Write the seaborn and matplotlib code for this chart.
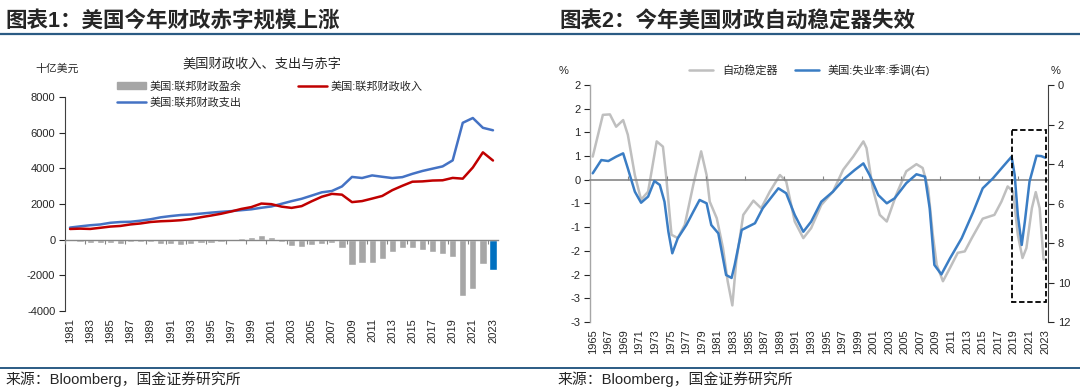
import numpy as np
import pandas as pd
import matplotlib
matplotlib.use("Agg")
import matplotlib.pyplot as plt
from matplotlib.lines import Line2D
from matplotlib.patches import Patch, Rectangle
import seaborn as sns

sns.set_style("white")
plt.rcParams['font.family'] = ['Liberation Sans', 'Noto Sans CJK SC', 'DejaVu Sans']
plt.rcParams['axes.unicode_minus'] = False

# 图表1 数据 (十亿美元)
years = list(range(1981, 2024))
surplus = [-79, -128, -208, -185, -212, -221, -150, -155, -153, -221, -269, -290, -255, -203,
           -164, -107, -22, 69, 126, 236, 128, -158, -378, -413, -318, -248, -161, -459,
           -1413, -1294, -1300, -1077, -680, -485, -442, -585, -665, -779, -984, -3132,
           -2775, -1376, -1695]
revenue = [599, 618, 601, 666, 734, 769, 854, 909, 991, 1032, 1055, 1091, 1154, 1259, 1352,
           1453, 1579, 1722, 1827, 2025, 1991, 1853, 1782, 1880, 2154, 2407, 2568, 2524, 2105,
           2163, 2304, 2450, 2775, 3022, 3250, 3268, 3316, 3330, 3463, 3421, 4047, 4897, 4439]
outlays = [678, 746, 808, 852, 946, 990, 1004, 1065, 1144, 1253, 1324, 1382, 1410, 1462, 1516,
           1561, 1601, 1652, 1702, 1789, 1863, 2011, 2160, 2293, 2472, 2655, 2729, 2983, 3518,
           3457, 3603, 3527, 3455, 3506, 3692, 3853, 3982, 4109, 4447, 6553, 6822, 6273, 6134]

# 图表2 数据
stab_years = [1965.0, 1966.3, 1967.2, 1968.0, 1968.9, 1969.5, 1970.4, 1971.2, 1972.1, 1973.2,
              1974.0, 1974.4, 1975.1, 1975.9, 1976.8, 1977.9, 1978.9, 1979.6, 1980.0, 1980.9,
              1981.7, 1982.3, 1982.9, 1983.4, 1984.3, 1985.6, 1986.6, 1987.7, 1989.0, 1989.8,
              1990.9, 1992.0, 1993.0, 1994.3, 1995.8, 1997.1, 1998.4, 1999.7, 2000.1, 2000.9,
              2001.8, 2002.7, 2003.9, 2005.2, 2006.5, 2007.3, 2008.0, 2008.6, 2009.1, 2009.9,
              2010.8, 2011.8, 2012.7, 2013.6, 2015.0, 2016.5, 2017.4, 2018.2, 2018.9, 2019.5,
              2020.1, 2020.6, 2021.3, 2021.8, 2022.3, 2022.8]
stab_vals = [0.49, 1.37, 1.38, 1.12, 1.26, 0.95, 0.10, -0.42, -0.25, 0.81,
             0.70, 0.10, -1.16, -1.23, -0.95, -0.10, 0.60, 0.10, -0.46, -0.81,
             -1.44, -2.14, -2.65, -1.72, -0.74, -0.44, -0.60, -0.25, 0.10, -0.03,
             -0.88, -1.23, -1.02, -0.53, -0.25, 0.21, 0.49, 0.81, 0.67, -0.18,
             -0.74, -0.88, -0.32, 0.18, 0.33, 0.25, -0.18, -1.16, -1.79, -2.14,
             -1.86, -1.54, -1.51, -1.23, -0.82, -0.74, -0.46, -0.14, -0.25, -1.16,
             -1.65, -1.44, -0.60, -0.26, -0.60, -1.68]
unemp_years = [1965.0, 1966.1, 1967.0, 1968.0, 1968.9, 1969.5, 1970.4, 1971.2, 1972.1, 1972.9,
               1973.6, 1974.2, 1974.7, 1975.2, 1975.9, 1977.0, 1977.9, 1978.7, 1979.6, 1980.2,
               1981.1, 1982.1, 1982.8, 1983.2, 1984.1, 1985.8, 1986.8, 1988.8, 1989.8, 1990.9,
               1992.0, 1993.0, 1994.3, 1995.8, 1997.3, 1998.6, 1999.7, 2000.5, 2001.6, 2002.7,
               2003.7, 2005.2, 2006.5, 2007.6, 2008.2, 2008.8, 2009.7, 2010.8, 2012.3, 2013.8,
               2015.0, 2016.3, 2017.6, 2018.7, 2019.1, 2019.5, 2020.0, 2020.4, 2021.0, 2021.9,
               2022.5, 2023.0]
unemp_vals = [4.47, 3.80, 3.85, 3.63, 3.46, 4.22, 5.40, 5.96, 5.65, 4.86,
              5.06, 5.91, 7.43, 8.52, 7.76, 7.09, 6.41, 5.82, 5.99, 7.09,
              7.51, 9.62, 9.77, 9.11, 7.34, 7.00, 6.24, 5.23, 5.48, 6.58,
              7.43, 6.92, 5.91, 5.40, 4.73, 4.30, 3.97, 4.56, 5.57, 5.99,
              5.74, 4.97, 4.52, 4.64, 6.24, 9.11, 9.59, 8.78, 7.76, 6.41,
              5.23, 4.73, 4.13, 3.63, 4.56, 6.58, 8.10, 6.92, 4.89, 3.58,
              3.60, 3.68]
left_ticks = [-3, -2.5, -2, -1.5, -1, -0.5, 0, 0.5, 1, 1.5, 2]
left_tick_labels = ['-3', '-3', '-2', '-2', '-1', '-1', '0', '1', '1', '2', '2']
right_ticks = [0, 2, 4, 6, 8, 10, 12]

W, H = 1080, 389
fig = plt.figure(figsize=(W / 100, H / 100), dpi=100)

def fx(px):
    return px / W

def fy(py):
    return 1 - py / H

# ---------- 页眉、页脚 ----------
head_col = '#2B5B84'
fig.text(fx(5), fy(22), '图表1：美国今年财政赤字规模上涨', fontsize=15.5, weight='bold',
         va='center', ha='left')
fig.text(fx(559), fy(22), '图表2：今年美国财政自动稳定器失效', fontsize=15.5, weight='bold',
         va='center', ha='left')
fig.add_artist(Line2D([0, 1], [fy(34), fy(34)], color=head_col, lw=1.6))
fig.add_artist(Line2D([0, 1], [fy(368), fy(368)], color=head_col, lw=1.4))
fig.text(fx(5), fy(379), '来源：Bloomberg，国金证券研究所', fontsize=10.7, va='center')
fig.text(fx(557), fy(379), '来源：Bloomberg，国金证券研究所', fontsize=10.7, va='center')

# ---------- 图表1 ----------
df1 = pd.DataFrame({'pos': np.arange(len(years)), 'year': years, 'surplus': surplus,
                    'revenue': revenue, 'outlays': outlays})

ax1 = fig.add_axes([fx(65), fy(311), fx(433), (311 - 97) / H])
sns.barplot(data=df1, x='pos', y='surplus', color='#A6A6A6', width=0.72, ax=ax1,
            saturation=1)
ax1.patches[-1].set_facecolor('#0070C0')
sns.lineplot(data=df1, x='pos', y='outlays', color='#4472C4', lw=1.8, ax=ax1)
sns.lineplot(data=df1, x='pos', y='revenue', color='#C00000', lw=1.8, ax=ax1)
ax1.set_xlim(-0.5, len(years) - 0.5)
ax1.set_ylim(-4000, 8000)
ax1.set_yticks(range(-4000, 8001, 2000))
ax1.set_xticks(range(0, len(years), 2))
ax1.set_xticklabels([str(y) for y in years[::2]], rotation=90)
ax1.tick_params(axis='x', length=0, pad=5, labelsize=8)
ax1.tick_params(axis='y', length=4, width=0.8, direction='out', labelsize=8, pad=3, left=True)
ax1.set_xlabel('')
ax1.set_ylabel('')
for s in ['top', 'right', 'bottom']:
    ax1.spines[s].set_visible(False)
ax1.spines['left'].set_color('#404040')
ax1.spines['left'].set_linewidth(0.8)

ax1z = ax1.twiny()
ax1z.set_xlim(ax1.get_xlim())
ax1z.xaxis.set_ticks_position('bottom')
ax1z.spines['bottom'].set_position(('data', 0))
for s in ['top', 'right', 'left']:
    ax1z.spines[s].set_visible(False)
ax1z.spines['bottom'].set_color('#868686')
ax1z.spines['bottom'].set_linewidth(1.0)
ax1z.set_xticks(np.arange(-0.5, len(years), 2))
ax1z.set_xticklabels([])
ax1z.tick_params(axis='x', length=3, width=0.8, color='#868686', direction='out')

fig.text(fx(262), fy(64), '美国财政收入、支出与赤字', fontsize=9.5, ha='center', va='center')
fig.text(fx(57), fy(69), '十亿美元', fontsize=7.8, ha='center', va='center')
handles1 = [Patch(color='#A6A6A6'), Line2D([], [], color='#4472C4', lw=1.8),
            Line2D([], [], color='#C00000', lw=1.8)]
labels1 = ['美国:联邦财政盈余', '美国:联邦财政支出', '美国:联邦财政收入']
fig.legend(handles1, labels1, ncol=2, loc='upper left', bbox_to_anchor=(fx(117), fy(81)),
           frameon=False, fontsize=8, handlelength=2.6, handleheight=0.6, handletextpad=0.3,
           columnspacing=5.1, labelspacing=0.5, borderpad=0, borderaxespad=0)

# ---------- 图表2 ----------
ax = fig.add_axes([fx(590), fy(322), fx(458), (322 - 85) / H])
sns.lineplot(x=stab_years, y=stab_vals, color='#BFBFBF', lw=1.8, ax=ax)
ax.set_xlim(1964.65, 2023.37)
ax.set_ylim(-3, 2)
ax.set_yticks(left_ticks)
ax.set_yticklabels(left_tick_labels)
ax.set_xticks(range(1965, 2024, 2))
ax.set_xticklabels([str(y) for y in range(1965, 2024, 2)], rotation=90)
ax.tick_params(axis='x', length=0, pad=5, labelsize=8)
ax.tick_params(axis='y', length=4, width=0.8, direction='out', labelsize=8, left=True, pad=3)
for s in ['top', 'right', 'bottom']:
    ax.spines[s].set_visible(False)
ax.spines['left'].set_color('#A6A6A6')
ax.spines['left'].set_linewidth(1.0)

axz = ax.twiny()
axz.set_xlim(ax.get_xlim())
axz.xaxis.set_ticks_position('bottom')
axz.spines['bottom'].set_position(('data', 0))
for s in ['top', 'right', 'left']:
    axz.spines[s].set_visible(False)
axz.spines['bottom'].set_color('#868686')
axz.spines['bottom'].set_linewidth(1.2)
axz.set_xticks(np.arange(1969.5, 2023, 5))
axz.set_xticklabels([])
axz.tick_params(axis='x', length=3, width=0.8, color='#868686', direction='in')

ax2 = ax.twinx()
sns.lineplot(x=unemp_years, y=unemp_vals, color='#3A7DC4', lw=1.8, ax=ax2)
ax2.set_ylim(12, -0.0001)
ax2.set_yticks(right_ticks)
ax2.set_yticklabels([str(t) for t in right_ticks])
ax2.yaxis.set_ticks_position('right')
ax2.tick_params(axis='y', length=4, width=0.8, direction='out', labelsize=8, right=True,
                labelright=True, pad=3)
for s in ['top', 'left', 'bottom']:
    ax2.spines[s].set_visible(False)
ax2.spines['right'].set_color('#404040')
ax2.spines['right'].set_linewidth(0.8)
ax2.set_ylabel('')
ax2.add_patch(Rectangle((2018.7, 2.28), 2023.08 - 2018.7, 10.97 - 2.28, fill=False,
                        ls=(0, (3, 1.5)), lw=1.3, ec='black', zorder=5))

fig.text(fx(564), fy(71), '%', fontsize=8, ha='center', va='center')
fig.text(fx(1056), fy(71), '%', fontsize=8, ha='center', va='center')
handles2 = [Line2D([], [], color='#BFBFBF', lw=1.8), Line2D([], [], color='#3A7DC4', lw=1.8)]
labels2 = ['自动稳定器', '美国:失业率:季调(右)']
fig.legend(handles2, labels2, ncol=2, loc='upper left', bbox_to_anchor=(fx(689), fy(64)),
           frameon=False, fontsize=8, handlelength=2.2, handletextpad=0.8,
           columnspacing=1.5, borderpad=0, borderaxespad=0)

fig.savefig('out.png', dpi=100)
